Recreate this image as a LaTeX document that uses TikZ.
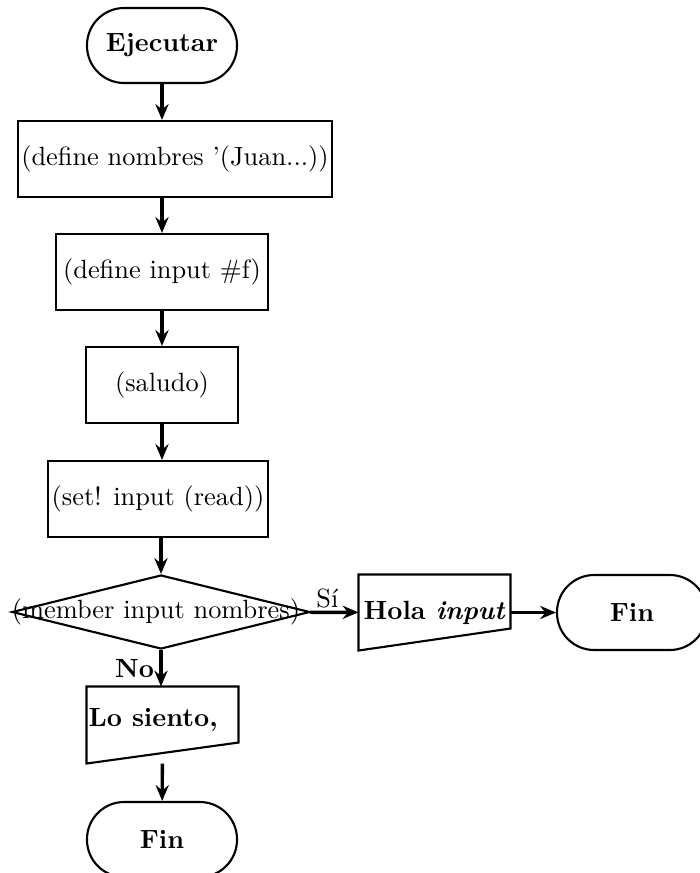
\documentclass[tikz,border=0pt]{standalone}
\usetikzlibrary{shapes.geometric,arrows.meta}
% one drawing unit
\newcommand\pxu{0.37936pt}
\tikzset{
  proc/.style={rectangle, draw, thick, inner sep=1pt, minimum height=76*\pxu},
  term/.style={rectangle, rounded corners=14.1pt, draw, thick, font=\bfseries, minimum width=150*\pxu, minimum height=75*\pxu},
  io/.style={rectangle, draw=none, inner sep=1pt},
  outline/.style={draw, thick, line join=miter},
  flow/.style={line width=1.3pt, -{Stealth[length=6pt,width=5pt,inset=2pt]}}
}
\begin{document}
\begin{tikzpicture}[x=\pxu, y=-\pxu]
\useasboundingbox (0,0) rectangle (700,873);

% main column
\node[term] (ej) at (162,45.5) {Ejecutar};
\node[proc, minimum width=314*\pxu] (r1) at (175,159) {(define nombres '(Juan...))};
\node[proc, minimum width=212*\pxu] (r2) at (162,272) {(define input \#f)};
\node[proc, minimum width=152*\pxu] (r3) at (162,385) {(saludo)};
\node[proc, minimum width=220*\pxu] (r4) at (158,499) {(set! input (read))};

% decision
\node[diamond, draw, thick, inner sep=0pt, minimum width=298*\pxu, minimum height=74*\pxu] (d) at (161,612) {};
\node[inner sep=0pt] (dt) at (156,612) {(member input nombres)};

% yes branch
\node[io, minimum width=151*\pxu, minimum height=75*\pxu] (hola) at (434.5,612.5) {\textbf{Hola \textit{input}}};
\draw[outline] (hola.north west) -- (hola.north east)
  -- ([yshift=22*\pxu]hola.south east) -- (hola.south west) -- cycle;
\node[term] (fin1) at (632,612.5) {Fin};

% no branch
\node[io, minimum width=151*\pxu, minimum height=76*\pxu] (ls) at (162.5,725) {};
\draw[outline] (ls.north west) -- (ls.north east)
  -- ([yshift=21*\pxu]ls.south east) -- (ls.south west) -- cycle;
\node[anchor=west, inner sep=0pt, font=\bfseries] (lst) at (88,720) {Lo siento,};
\node[term] (fin2) at (162,839.5) {Fin};

% connectors
\draw[flow] (ej) -- (ej |- r1.north);
\draw[flow] (r2 |- r1.south) -- (r2);
\draw[flow] (r2) -- (r3);
\draw[flow] (r3) -- (r3 |- r4.north);
\draw[flow] (d |- r4.south) -- (d);
\draw[flow] (d) -- node[above, pos=.36, inner sep=1pt] (si) {Sí} (hola);
\draw[flow] (hola) -- (fin1);
\draw[flow] (d) -- node[left, inner sep=2pt, font=\bfseries] (no) {No} (d |- ls.north);
\draw[flow] (ls) -- (fin2);
\end{tikzpicture}
\end{document}
